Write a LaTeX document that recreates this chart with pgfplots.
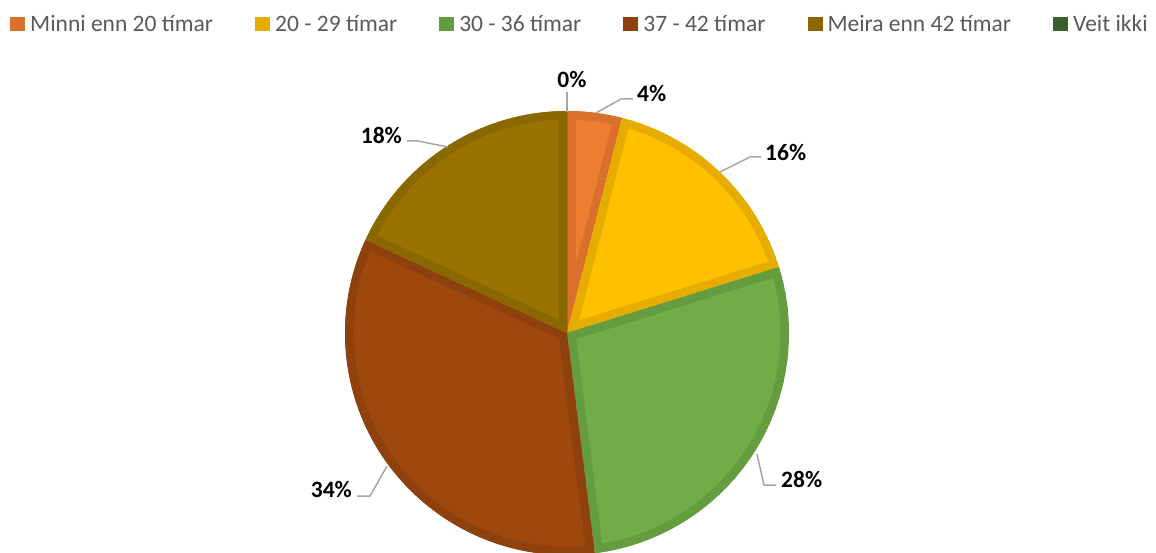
\documentclass[border=0pt]{standalone}
\usepackage{pgfplots}
\usepackage{pgfplotstable}
\pgfplotsset{compat=1.18}
\usepackage{fontspec}
\setmainfont{Carlito}

% slice colours: L = fill, D = darker rim
\definecolor{sl0L}{HTML}{ED7D31}\definecolor{sl0D}{HTML}{D9712C}
\definecolor{sl1L}{HTML}{FFC000}\definecolor{sl1D}{HTML}{E6AD00}
\definecolor{sl2L}{HTML}{70AD47}\definecolor{sl2D}{HTML}{659C40}
\definecolor{sl3L}{HTML}{9E480E}\definecolor{sl3D}{HTML}{8E410D}
\definecolor{sl4L}{HTML}{997300}\definecolor{sl4D}{HTML}{8A6800}
\definecolor{sl5L}{HTML}{43682B}\definecolor{sl5D}{HTML}{3C5E27}
\definecolor{lead}{HTML}{A6A6A6}
\definecolor{legtxt}{HTML}{595959}

% share (%), leader line a -> b -> c and label position, in pixels of the canvas
\pgfplotstableread[col sep=comma]{
pct,ax,ay,bx,by,cx,cy,tx,ty,anc
4.0,596,113,621,99,633,99,637,93,west
16.2,720,172,750,157,761,157,765,152,west
27.8,757,454,764,485,776,485,781,479,west
33.9,387,466,370,496,357,496,352,489,east
18.1,448,147,418,141,407,141,402,135,east
0.0,567,112,567,102,567,92,572,79,center
}\piedata

\begin{document}
\begin{tikzpicture}
% start / end angle of each slice, clockwise from 12 o'clock
\def\cum{0}
\pgfplotsforeachungrouped \i in {0,...,5}{%
  \pgfplotstablegetelem{\i}{pct}\of\piedata
  \pgfmathsetmacro\sa{90-3.6*\cum}%
  \pgfmathsetmacro\cum{\cum+\pgfplotsretval}%
  \pgfmathsetmacro\ea{90-3.6*\cum}%
  \expandafter\xdef\csname sa\i\endcsname{\sa}%
  \expandafter\xdef\csname ea\i\endcsname{\ea}%
}
\useasboundingbox (0,0) rectangle (1156pt,553pt);
\begin{axis}[at={(0,0)}, anchor=south west,
  width=1156pt, height=553pt, scale only axis,
  xmin=0, xmax=1156, ymin=0, ymax=553, y dir=reverse, hide axis,
  legend image code/.code={\fill[#1, draw=none] (0pt,-7pt) rectangle (15pt,7pt);},
  legend columns=6, legend cell align=left,
  legend style={at={(0.00865,0.956)}, anchor=west, draw=none, fill=none, inner sep=0pt,
    font=\fontsize{23.5}{28}\selectfont, text=legtxt, nodes={inner sep=0pt},
    /tikz/every odd column/.append style={column sep=5pt},
    /tikz/every even column/.append style={column sep=42pt}}]
  \addplot[draw=none, forget plot] coordinates {(567,333)};
  \addlegendimage{draw=none, fill=sl0D}\addlegendentry{Minni enn 20 tímar}
  \addlegendimage{draw=none, fill=sl1D}\addlegendentry{20 - 29 tímar}
  \addlegendimage{draw=none, fill=sl2D}\addlegendentry{30 - 36 tímar}
  \addlegendimage{draw=none, fill=sl3D}\addlegendentry{37 - 42 tímar}
  \addlegendimage{draw=none, fill=sl4D}\addlegendentry{Meira enn 42 tímar}
  \addlegendimage{draw=none, fill=sl5D}\addlegendentry{Veit ikki}
  \pgfplotsextra{%
    \foreach \k in {0,...,5}{%
      \colorlet{curL}{sl\k L}\colorlet{curD}{sl\k D}%
      \edef\sa{\csname sa\k\endcsname}\edef\ea{\csname ea\k\endcsname}%
      \begin{scope}
        \clip (axis cs:567,333) -- ++(\sa:222pt) arc[start angle=\sa, end angle=\ea, radius=222pt] -- cycle;
        \fill[curL] (axis cs:567,333) -- ++(\sa:222pt) arc[start angle=\sa, end angle=\ea, radius=222pt] -- cycle;
        \draw[curD, line width=17pt] (axis cs:567,333) -- ++(\sa:222pt) arc[start angle=\sa, end angle=\ea, radius=222pt] -- cycle;
      \end{scope}
    }%
    \foreach \k in {0,...,5}{%
      \pgfplotstablegetelem{\k}{pct}\of\piedata\let\pct\pgfplotsretval
      \pgfplotstablegetelem{\k}{ax}\of\piedata\let\ax\pgfplotsretval
      \pgfplotstablegetelem{\k}{ay}\of\piedata\let\ay\pgfplotsretval
      \pgfplotstablegetelem{\k}{bx}\of\piedata\let\bx\pgfplotsretval
      \pgfplotstablegetelem{\k}{by}\of\piedata\let\by\pgfplotsretval
      \pgfplotstablegetelem{\k}{cx}\of\piedata\let\cx\pgfplotsretval
      \pgfplotstablegetelem{\k}{cy}\of\piedata\let\cy\pgfplotsretval
      \pgfplotstablegetelem{\k}{tx}\of\piedata\let\tx\pgfplotsretval
      \pgfplotstablegetelem{\k}{ty}\of\piedata\let\ty\pgfplotsretval
      \pgfplotstablegetelem{\k}{anc}\of\piedata\let\anc\pgfplotsretval
      \pgfmathtruncatemacro\lab{round(\pct)}%
      \draw[lead, line width=1.5pt] (axis cs:\ax,\ay) -- (axis cs:\bx,\by) -- (axis cs:\cx,\cy);
      \node[anchor=\anc, inner sep=0pt, font=\fontsize{23.5}{28}\selectfont\bfseries] at (axis cs:\tx,\ty) {\lab\%};
    }%
  }
\end{axis}
\end{tikzpicture}
\end{document}
